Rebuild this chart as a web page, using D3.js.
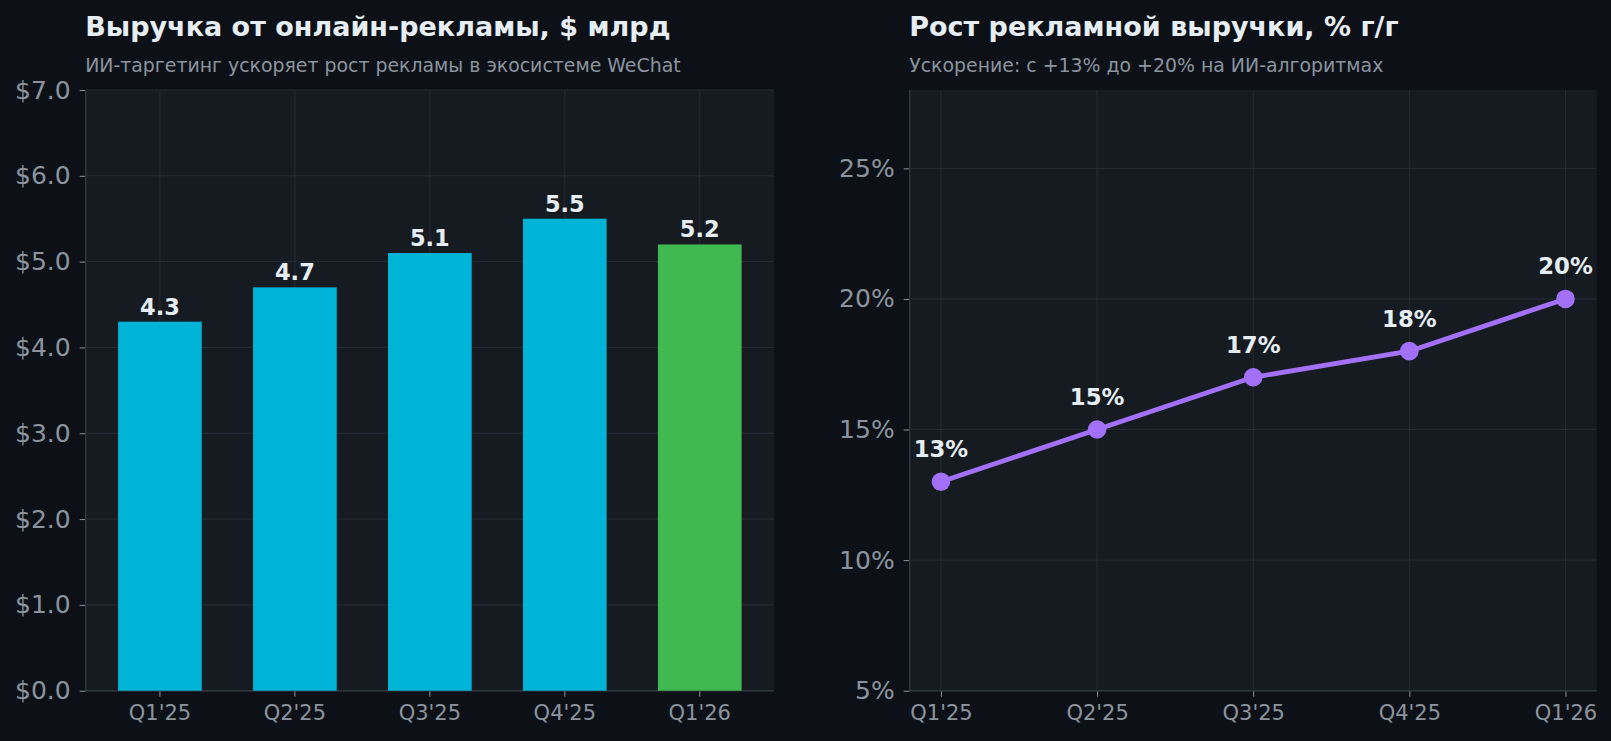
<!DOCTYPE html>
<meta charset="utf-8" />
<head>
  <script src="https://d3js.org/d3.v7.min.js"></script>
  <style>
    body {
      margin: 0;
      background: #0d1117;
    }
    svg text {
      font-family: "DejaVu Sans", sans-serif;
    }
    .tick text {
      fill: #8b949e;
    }
  </style>
</head>
<body>
  <div id="chart"></div>
</body>
<script>
  // chart data
  var quarters = ["Q1'25", "Q2'25", "Q3'25", "Q4'25", "Q1'26"];
  var adRevenue = [4.3, 4.7, 5.1, 5.5, 5.2];
  var yoyGrowth = [13, 15, 17, 18, 20];
  var revenueTicks = [0, 1, 2, 3, 4, 5, 6, 7];
  var growthTicks = [5, 10, 15, 20, 25];

  var W = 1611,
    H = 741;

  var svg = d3
    .select("#chart")
    .append("svg")
    .attr("width", W)
    .attr("height", H)
    .style("background", "#0d1117");

  var plotTop = 90,
    plotBottom = 690.7;

  // draws background, grid, spines, ticks and titles for one panel
  function panelFrame(g, x0, x1, xScale, xCenter, ys, yTicks, yFmt, title, subtitle) {
    g.append("rect")
      .attr("x", x0)
      .attr("y", plotTop)
      .attr("width", x1 - x0)
      .attr("height", plotBottom - plotTop)
      .attr("fill", "#161b22");

    // horizontal grid
    g.selectAll(".hgrid")
      .data(yTicks)
      .enter()
      .append("line")
      .attr("x1", x0)
      .attr("x2", x1)
      .attr("y1", function (d) { return ys(d); })
      .attr("y2", function (d) { return ys(d); })
      .attr("stroke", "#262c36")
      .attr("stroke-width", 1);

    // vertical grid at categories
    g.selectAll(".vgrid")
      .data(quarters)
      .enter()
      .append("line")
      .attr("x1", function (d) { return xCenter(d); })
      .attr("x2", function (d) { return xCenter(d); })
      .attr("y1", plotTop)
      .attr("y2", plotBottom)
      .attr("stroke", "#262c36")
      .attr("stroke-width", 1);

    // y axis
    var yAxis = g
      .append("g")
      .attr("transform", "translate(" + x0 + ",0)")
      .call(d3.axisLeft(ys).tickValues(yTicks).tickFormat(yFmt).tickSize(6).tickPadding(9));
    yAxis.select(".domain").remove();
    yAxis.selectAll(".tick line").attr("stroke", "#8b949e");
    yAxis.selectAll(".tick text").style("font-size", "25px");

    // x axis
    var xAxis = g
      .append("g")
      .attr("transform", "translate(0," + plotBottom + ")")
      .call(d3.axisBottom(xScale).tickSize(6).tickPadding(8));
    xAxis.select(".domain").remove();
    xAxis.selectAll(".tick line").attr("stroke", "#8b949e");
    xAxis.selectAll(".tick text").style("font-size", "21px");

    // spines
    g.append("line")
      .attr("x1", x0).attr("x2", x0)
      .attr("y1", plotTop).attr("y2", plotBottom)
      .attr("stroke", "#30363d").attr("stroke-width", 1.5);
    g.append("line")
      .attr("x1", x0).attr("x2", x1)
      .attr("y1", plotBottom).attr("y2", plotBottom)
      .attr("stroke", "#30363d").attr("stroke-width", 1.5);

    // titles
    g.append("text")
      .attr("x", x0 - 0.5)
      .attr("y", 35.7)
      .attr("fill", "#e6edf3")
      .style("font-size", "27px")
      .style("font-weight", "bold")
      .text(title);
    g.append("text")
      .attr("x", x0 - 0.5)
      .attr("y", 72.3)
      .attr("fill", "#8b949e")
      .style("font-size", "18.9px")
      .text(subtitle);
  }

  // ---- left panel: bars ----
  var lx0 = 85.7,
    lx1 = 774;
  var xBar = d3.scaleBand().domain(quarters).range([lx0, lx1]).paddingInner(0.38).paddingOuter(0.24);
  var barCenter = function (d) { return xBar(d) + xBar.bandwidth() / 2; };
  var yBar = d3.scaleLinear().domain([0, 7]).range([plotBottom, plotTop]);

  var left = svg.append("g");
  panelFrame(
    left, lx0, lx1, xBar, barCenter,
    yBar, revenueTicks,
    function (d) { return "$" + d.toFixed(1); },
    "Выручка от онлайн-рекламы, $ млрд",
    "ИИ-таргетинг ускоряет рост рекламы в экосистеме WeChat"
  );

  left.selectAll(".bar")
    .data(adRevenue)
    .enter()
    .append("rect")
    .attr("x", function (d, i) { return xBar(quarters[i]); })
    .attr("y", function (d) { return yBar(d); })
    .attr("width", xBar.bandwidth())
    .attr("height", function (d) { return plotBottom - yBar(d); })
    .attr("fill", function (d, i) { return i == quarters.length - 1 ? "#3fb950" : "#00b4d8"; });

  left.selectAll(".barlabel")
    .data(adRevenue)
    .enter()
    .append("text")
    .attr("x", function (d, i) { return barCenter(quarters[i]); })
    .attr("y", function (d) { return yBar(d) - 7; })
    .attr("text-anchor", "middle")
    .attr("fill", "#e6edf3")
    .style("font-size", "22.5px")
    .style("font-weight", "bold")
    .text(function (d) { return d.toFixed(1); });

  // ---- right panel: line ----
  var rx0 = 909.7,
    rx1 = 1596.7;
  var xPt = d3.scalePoint().domain(quarters).range([rx0, rx1]).padding(0.2);
  var yPt = d3.scaleLinear().domain([5, 28]).range([plotBottom, plotTop]);

  var right = svg.append("g");
  panelFrame(
    right, rx0, rx1, xPt, xPt, yPt, growthTicks,
    function (d) { return d + "%"; },
    "Рост рекламной выручки, % г/г",
    "Ускорение: с +13% до +20% на ИИ-алгоритмах"
  );

  right.append("path")
    .datum(yoyGrowth)
    .attr("fill", "none")
    .attr("stroke", "#a371f7")
    .attr("stroke-width", 4.8)
    .attr("stroke-linejoin", "round")
    .attr("d", d3.line()
      .x(function (d, i) { return xPt(quarters[i]); })
      .y(function (d) { return yPt(d); }));

  right.selectAll(".dot")
    .data(yoyGrowth)
    .enter()
    .append("circle")
    .attr("cx", function (d, i) { return xPt(quarters[i]); })
    .attr("cy", function (d) { return yPt(d); })
    .attr("r", 9.3)
    .attr("fill", "#a371f7");

  right.selectAll(".ptlabel")
    .data(yoyGrowth)
    .enter()
    .append("text")
    .attr("x", function (d, i) { return xPt(quarters[i]); })
    .attr("y", function (d) { return yPt(d) - 24.5; })
    .attr("text-anchor", "middle")
    .attr("fill", "#e6edf3")
    .style("font-size", "22.8px")
    .style("font-weight", "bold")
    .text(function (d) { return d + "%"; });
</script>
